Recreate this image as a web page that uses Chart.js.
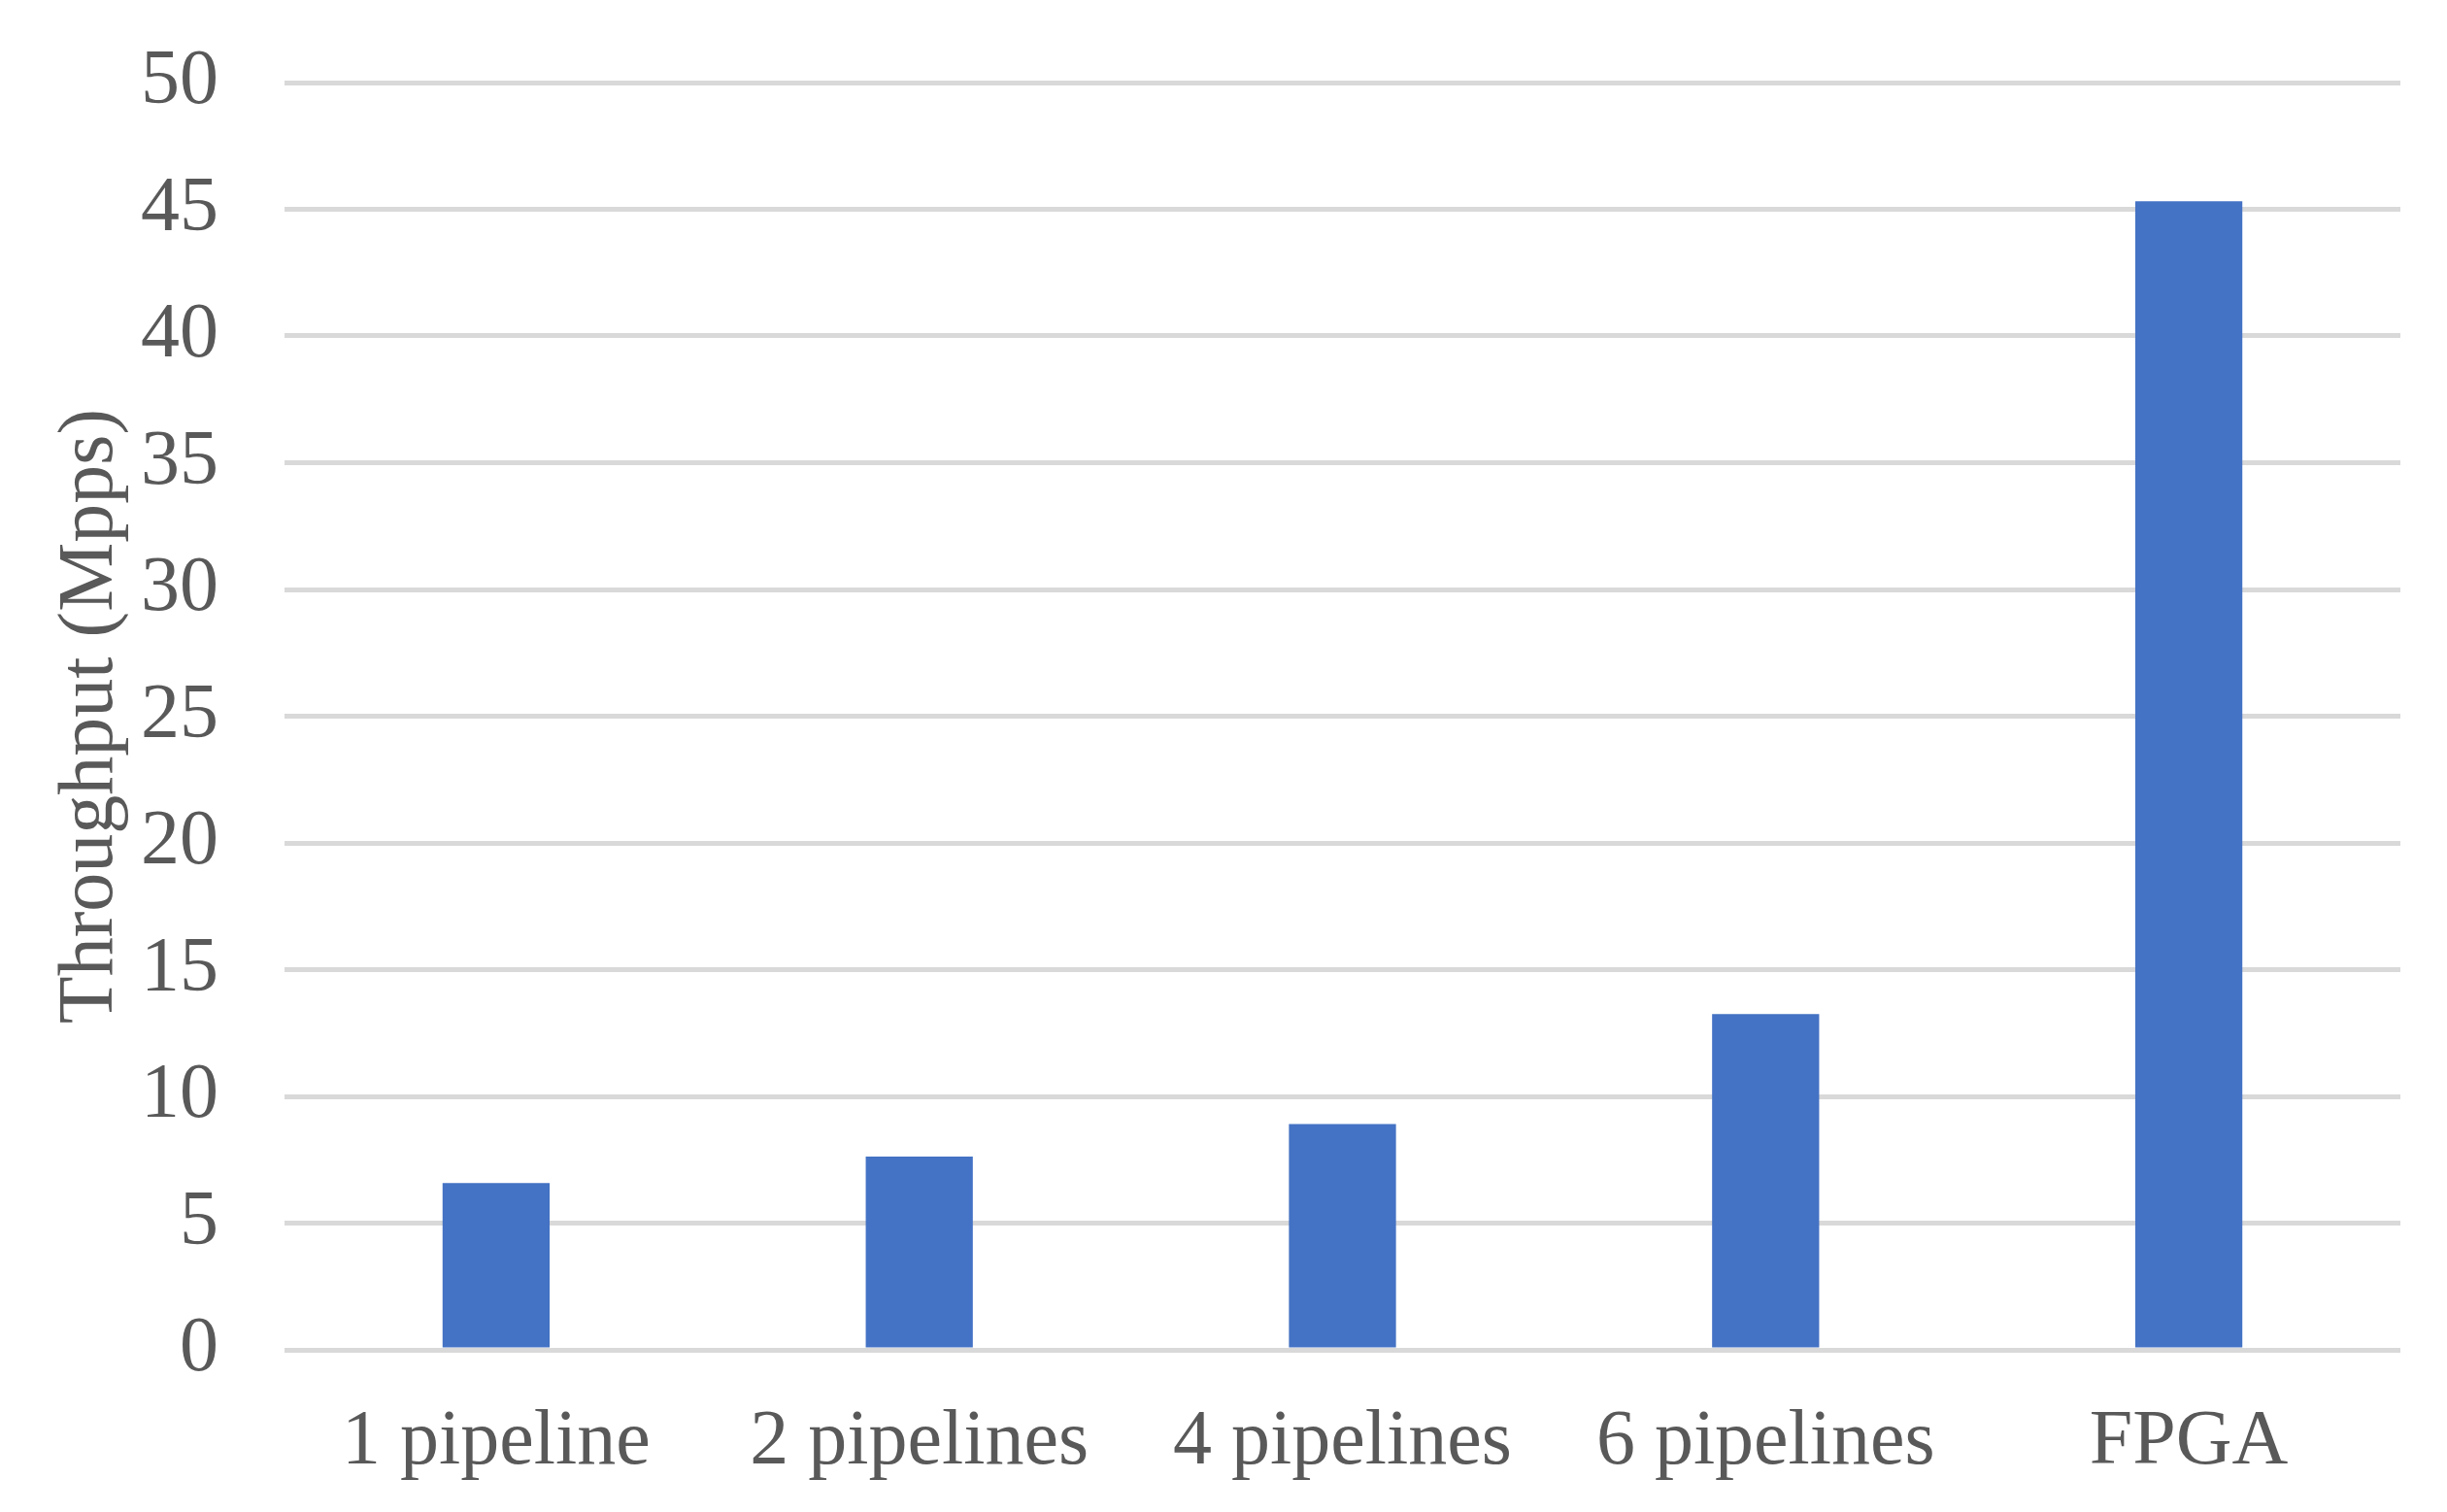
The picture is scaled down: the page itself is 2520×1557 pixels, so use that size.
<!DOCTYPE html>
<html>
<head>
<meta charset="utf-8">
<script src="https://cdn.jsdelivr.net/npm/chart.js@4.4.0/dist/chart.umd.min.js"></script>
<style>
  html, body { margin: 0; padding: 0; background: #ffffff; }
  #wrap { width: 2520px; height: 1557px; }
</style>
</head>
<body>
<div id="wrap"><canvas id="chart" width="2520" height="1557"></canvas></div>
<script>
// data
const categories = ["1 pipeline", "2 pipelines", "4 pipelines", "6 pipelines", "FPGA"];
const throughput = [6.58, 7.62, 8.91, 13.25, 45.32];
const yTicks = [0, 5, 10, 15, 20, 25, 30, 35, 40, 45, 50];
const yTitle = "Throughput (Mpps)";

const fontFamily = "'Liberation Serif', 'Times New Roman', serif";
const textColor = "#595959";

function makeChart(id){
    const ctx = document.getElementById(id).getContext("2d");
    return new Chart(ctx, {
        type: "bar",
        data: {
            labels: categories,
            datasets: [{
                label: yTitle,
                data: throughput,
                backgroundColor: "#4472C4",
                borderWidth: 0,
                barPercentage: 0.253,
                categoryPercentage: 1.0
            }]
        },
        options: {
            responsive: false,
            animation: false,
            layout: { padding: { top: 85, right: 48, bottom: 0, left: 46 } },
            plugins: { legend: { display: false }, tooltip: { enabled: false } },
            scales: {
                x: {
                    afterFit: function(scale){
                        scale.height = 167;
                        scale.paddingLeft = 0;
                        scale.paddingRight = 0;
                    },
                    grid: { display: false, drawTicks: false },
                    border: { display: false },
                    ticks: {
                        color: textColor,
                        font: { family: fontFamily, size: 80 },
                        padding: 48,
                        maxRotation: 0
                    }
                },
                y: {
                    min: yTicks[0],
                    max: yTicks[yTicks.length - 1],
                    afterBuildTicks: function(scale){
                        scale.ticks = yTicks.map(v => ({ value: v }));
                    },
                    afterFit: function(scale){
                        scale.width = 247;
                        scale.paddingTop = 0;
                        scale.paddingBottom = 0;
                    },
                    grid: { color: "#d9d9d9", lineWidth: 5, drawTicks: false },
                    border: { display: false },
                    ticks: {
                        color: textColor,
                        font: { family: fontFamily, size: 80 },
                        padding: 68
                    },
                    title: {
                        display: true,
                        text: yTitle,
                        color: textColor,
                        font: { family: fontFamily, size: 80, lineHeight: 1.2 },
                        padding: 0
                    }
                }
            }
        }
    });
}

window.myChart = makeChart("chart");
</script>
</body>
</html>
